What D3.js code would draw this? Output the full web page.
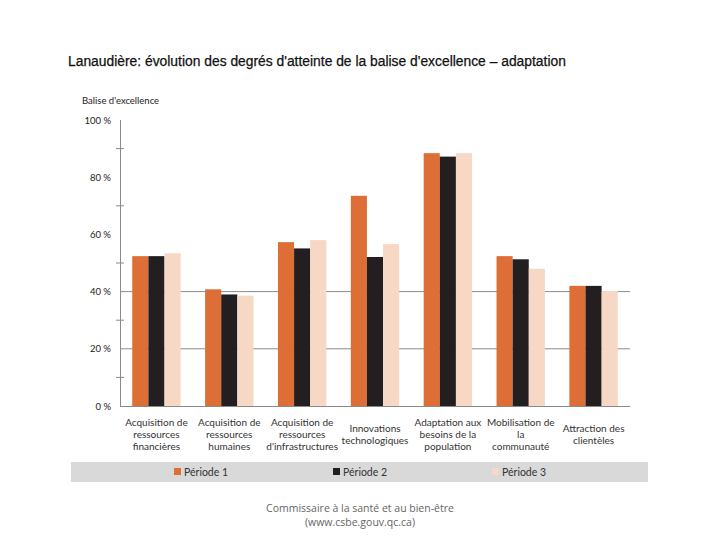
<!DOCTYPE html>
<html><head><meta charset="utf-8">
<script src="https://cdn.jsdelivr.net/npm/d3@7"></script>
<style>body{margin:0;background:#fff}</style>
</head><body>
<svg id="c" width="720" height="540"></svg>
<script>
const categories = [
  ["Acquisition de","ressources","financières"],
  ["Acquisition de","ressources","humaines"],
  ["Acquisition de","ressources","d'infrastructures"],
  ["Innovations","technologiques"],
  ["Adaptation aux","besoins de la","population"],
  ["Mobilisation de","la","communauté"],
  ["Attraction des","clientèles"]
];
const seriesNames = ["Période 1","Période 2","Période 3"];
const periode1 = [52.4, 40.8, 57.3, 73.5, 88.4, 52.4, 42.0];
const periode2 = [52.4, 39.0, 55.1, 52.1, 87.2, 51.3, 42.0];
const periode3 = [53.4, 38.6, 58.0, 56.6, 88.4, 48.0, 40.2];
const labelTicks = [0, 20, 40, 60, 80, 100];
const minorTicks = [10, 30, 50, 70, 90];
const gridTicks = [20, 40];
const colors = ["#dd6f36", "#231f20", "#f6d8c5"];

const svg = d3.select("#c");
const series = [periode1, periode2, periode3];

const x0 = d3.scaleBand().domain(d3.range(categories.length)).range([120, 630]).paddingInner(0.336).paddingOuter(0.168);
const x1 = d3.scaleBand().domain(d3.range(3)).range([0, x0.bandwidth()]);
const y = d3.scaleLinear().domain([0, 100]).range([406, 120]);

// title
svg.append("text").attr("x", 68).attr("y", 66)
  .attr("font-family", "Liberation Sans, Arial, sans-serif").attr("font-size", 13.85)
  .attr("fill", "#111").attr("stroke", "#111").attr("stroke-width", 0.25)
  .text("Lanaudière: évolution des degrés d'atteinte de la balise d'excellence – adaptation");

svg.append("text").attr("x", 82).attr("y", 104)
  .attr("font-family", "Lato, sans-serif").attr("font-size", 9.5).attr("fill", "#222")
  .text("Balise d'excellence");

// gridlines
svg.append("g").selectAll("line").data(gridTicks).join("line")
  .attr("x1", 120).attr("x2", 630).attr("y1", d => y(d)).attr("y2", d => y(d))
  .attr("stroke", "#8a8a8a").attr("stroke-width", 1);

// bars
const g = svg.append("g");
categories.forEach((c, i) => {
  series.forEach((s, k) => {
    g.append("rect")
      .attr("x", x0(i) + x1(k)).attr("width", x1.bandwidth())
      .attr("y", y(s[i])).attr("height", y(0) - y(s[i]))
      .attr("fill", colors[k]);
  });
});

// y axis line
svg.append("line").attr("x1", 120.5).attr("x2", 120.5).attr("y1", y(100)).attr("y2", y(0))
  .attr("stroke", "#8a8a8a");
// baseline
svg.append("line").attr("x1", 120).attr("x2", 630).attr("y1", y(0)+0.5).attr("y2", y(0)+0.5)
  .attr("stroke", "#8a8a8a");
// minor ticks
svg.append("g").selectAll("line").data(minorTicks).join("line")
  .attr("x1", 116).attr("x2", 124).attr("y1", d => y(d)).attr("y2", d => y(d))
  .attr("stroke", "#8a8a8a");
// tick labels
svg.append("g").selectAll("text").data(labelTicks).join("text")
  .attr("x", 111).attr("y", d => y(d) + 3.5).attr("text-anchor", "end")
  .attr("font-family", "Lato, sans-serif").attr("font-size", 9.5).attr("fill", "#222")
  .text(d => d + " %");

// category labels
categories.forEach((lines, i) => {
  const cx = x0(i) + x0.bandwidth() / 2;
  const startY = lines.length === 3 ? 426 : 432;
  const t = svg.append("text").attr("text-anchor", "middle")
    .attr("font-family", "Lato, sans-serif").attr("font-size", 10).attr("fill", "#333");
  lines.forEach((l, j) => {
    t.append("tspan").attr("x", cx).attr("y", startY + j * 12).text(l);
  });
});

// legend band
svg.append("rect").attr("x", 71).attr("y", 462).attr("width", 577).attr("height", 20).attr("fill", "#d9d9d9");
const legX = [174, 333, 492];
seriesNames.forEach((n, k) => {
  svg.append("rect").attr("x", legX[k]).attr("y", 468).attr("width", 7).attr("height", 7).attr("fill", colors[k]);
  svg.append("text").attr("x", legX[k] + 10).attr("y", 475.5)
    .attr("font-family", "Lato, sans-serif").attr("font-size", 10.5).attr("fill", "#333").text(n);
});

// footer
svg.append("text").attr("x", 360).attr("y", 512).attr("text-anchor", "middle")
  .attr("font-family", "Open Sans, sans-serif").attr("font-size", 10.5).attr("fill", "#666")
  .text("Commissaire à la santé et au bien-être");
svg.append("text").attr("x", 360).attr("y", 526).attr("text-anchor", "middle")
  .attr("font-family", "Open Sans, sans-serif").attr("font-size", 10.5).attr("fill", "#666")
  .text("(www.csbe.gouv.qc.ca)");
</script>
</body></html>
